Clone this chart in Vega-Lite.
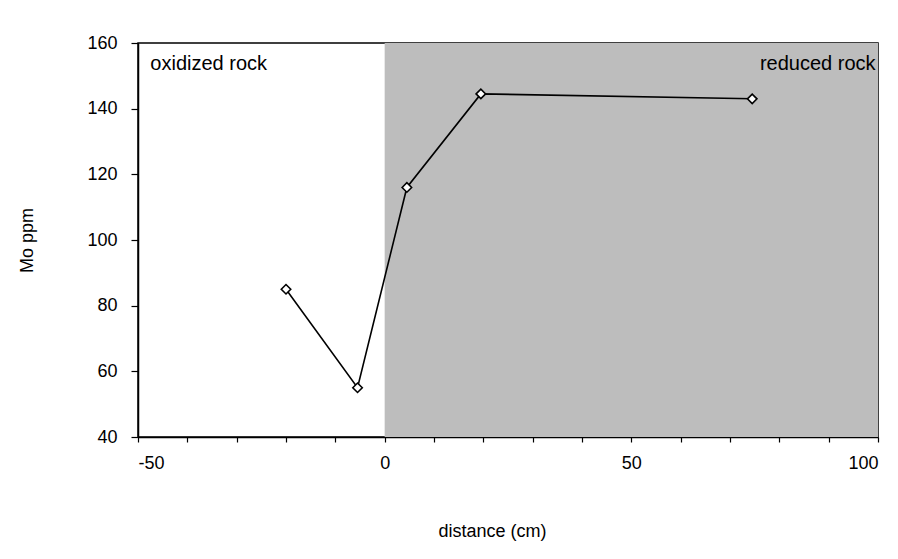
{
  "$schema": "https://vega.github.io/schema/vega-lite/v6.json",
  "autosize": "none",
  "width": 740,
  "height": 394,
  "padding": {"left": 138, "top": 43, "right": 20, "bottom": 122},
  "background": "white",
  "config": {
    "view": {"stroke": "black", "strokeWidth": 1.5},
    "font": "Liberation Sans",
    "axis": {
      "domainColor": "black",
      "domainWidth": 1.5,
      "tickColor": "black",
      "tickWidth": 1.2,
      "grid": false,
      "labelColor": "black",
      "titleColor": "black",
      "labelFont": "Liberation Sans",
      "titleFont": "Liberation Sans",
      "labelFontSize": 18,
      "titleFontSize": 18,
      "titleFontWeight": "normal"
    }
  },
  "datasets": {
    "zones": [{"start": 0, "end": 100, "zone": "reduced"}],
    "samples": [
      {"distance": -20, "mo": 85},
      {"distance": -5.5, "mo": 55},
      {"distance": 4.5, "mo": 116},
      {"distance": 19.5, "mo": 144.5},
      {"distance": 74.5, "mo": 143}
    ],
    "labels": [
      {"distance": -47.5, "mo": 153.5, "text": "oxidized rock", "side": "left"},
      {"distance": 99.5, "mo": 153.5, "text": "reduced rock", "side": "right"}
    ]
  },
  "layer": [
    {
      "data": {"name": "zones"},
      "mark": {"type": "rect", "color": "#bdbdbd", "opacity": 1},
      "encoding": {
        "x": {
          "field": "start", "type": "quantitative",
          "scale": {"domain": [-50, 100], "nice": false, "zero": false},
          "axis": {
            "title": "distance (cm)",
            "values": [-50, -40, -30, -20, -10, 0, 10, 20, 30, 40, 50, 60, 70, 80, 90, 100],
            "labelExpr": "datum.value % 50 === 0 ? '' + datum.value : ''",
            "tickSize": 5,
            "labelPadding": 12,
            "titlePadding": 50,
            "titleX": 354
          }
        },
        "x2": {"field": "end"}
      }
    },
    {
      "data": {"name": "samples"},
      "mark": {"type": "line", "color": "black", "strokeWidth": 1.6},
      "encoding": {
        "x": {"field": "distance", "type": "quantitative"},
        "y": {
          "field": "mo", "type": "quantitative",
          "scale": {"domain": [40, 160], "nice": false, "zero": false},
          "axis": {
            "title": "Mo ppm",
            "values": [40, 50, 60, 70, 80, 90, 100, 110, 120, 130, 140, 150, 160],
            "labelExpr": "datum.value % 20 === 0 ? datum.label : ''",
            "tickSize": 7,
            "labelPadding": 14,
            "titlePadding": 50
          }
        }
      }
    },
    {
      "data": {"name": "samples"},
      "mark": {"type": "point", "shape": "diamond", "filled": true, "fill": "white", "stroke": "black", "strokeWidth": 1.6, "size": 90, "opacity": 1},
      "encoding": {
        "x": {"field": "distance", "type": "quantitative"},
        "y": {"field": "mo", "type": "quantitative"}
      }
    },
    {
      "data": {"name": "labels"},
      "transform": [{"filter": "datum.side === 'left'"}],
      "mark": {"type": "text", "align": "left", "baseline": "middle", "fontSize": 20, "color": "black"},
      "encoding": {
        "x": {"field": "distance", "type": "quantitative"},
        "y": {"field": "mo", "type": "quantitative"},
        "text": {"field": "text"}
      }
    },
    {
      "data": {"name": "labels"},
      "transform": [{"filter": "datum.side === 'right'"}],
      "mark": {"type": "text", "align": "right", "baseline": "middle", "fontSize": 20, "color": "black"},
      "encoding": {
        "x": {"field": "distance", "type": "quantitative"},
        "y": {"field": "mo", "type": "quantitative"},
        "text": {"field": "text"}
      }
    }
  ]
}
